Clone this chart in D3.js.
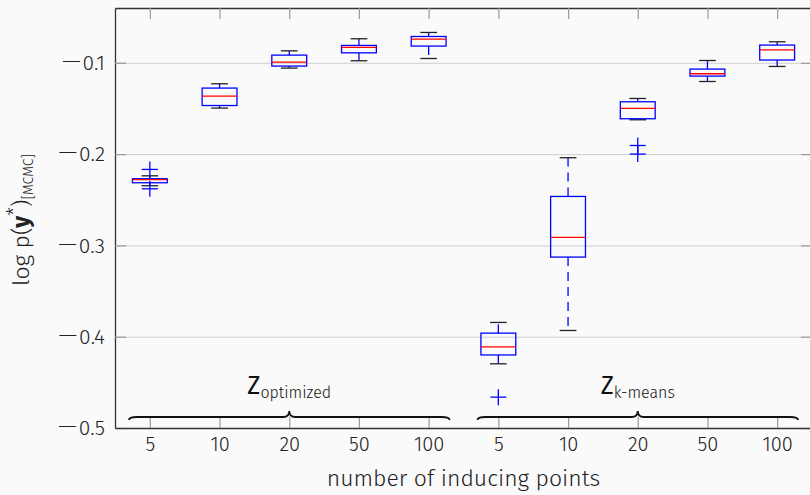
<!DOCTYPE html>
<html>
<head>
<meta charset="utf-8">
<script src="https://cdn.jsdelivr.net/npm/d3@7"></script>
<style>
  body { margin: 0; background: #fafafa; }
  svg { display: block; font-family: "Fira Sans", "Open Sans", sans-serif; font-weight: 300; }
</style>
</head>
<body>
<div id="chart"></div>
<script>
// number of inducing points, repeated for each group
const categories = ['5', '10', '20', '50', '100'];
const groups = ['optimized', 'k-means'];

// box stats per box: [low whisker, q1, median, q3, high whisker]
const statsOptimized = [
    [-0.2347, -0.2314, -0.2280, -0.2270, -0.2238],
    [-0.1496, -0.1468, -0.1365, -0.1277, -0.1230],
    [-0.1058, -0.1036, -0.0992, -0.0916, -0.0869],
    [-0.0978, -0.0891, -0.0832, -0.0810, -0.0737],
    [-0.0953, -0.0817, -0.0741, -0.0712, -0.0668]
];
const statsKmeans = [
    [-0.4297, -0.4200, -0.4111, -0.3961, -0.3844],
    [-0.3932, -0.3128, -0.2913, -0.2464, -0.2040],
    [-0.1624, -0.1613, -0.1500, -0.1427, -0.1391],
    [-0.1205, -0.1146, -0.1120, -0.1069, -0.0975],
    [-0.1040, -0.0970, -0.0858, -0.0806, -0.0770]
];
const outliersOptimized = [[-0.2168, -0.2380], [], [], [], []];
const outliersKmeans = [[-0.4662], [], [-0.1906, -0.2000], [], []];

const yTicks = [-0.5, -0.4, -0.3, -0.2, -0.1];

// flatten into one list of boxes, positions 1..10
const boxes = [];
[statsOptimized, statsKmeans].forEach((st, g) => {
    st.forEach((s, i) => {
        boxes.push({
            pos: g * categories.length + i + 1,
            lo: s[0], q1: s[1], med: s[2], q3: s[3], hi: s[4],
            out: (g === 0 ? outliersOptimized : outliersKmeans)[i]
        });
    });
});

const width = 810, height = 495;
const margin = { top: 8, right: -2, bottom: 67, left: 115 };
const innerWidth = width - margin.left - margin.right,
    innerHeight = height - margin.top - margin.bottom;

const svg = d3.select('#chart')
    .append('svg')
    .attr('width', width)
    .attr('height', height);

const g = svg.append('g')
    .attr('transform', 'translate(' + margin.left + ',' + margin.top + ')');

const x = d3.scaleLinear()
    .domain([0.5, boxes.length + 0.5])
    .range([0, innerWidth]);

const y = d3.scaleLinear()
    .domain([-0.5, -0.04])
    .range([innerHeight, 0]);

// grid lines
g.append('g')
    .call(d3.axisLeft(y).tickValues(yTicks).tickSize(-innerWidth).tickFormat(''))
    .call(a => a.select('.domain').remove())
    .selectAll('line').attr('stroke', '#cfcfcf');

// axes with inward ticks
const tickLen = 11;

const yAxisG = g.append('g')
    .call(d3.axisLeft(y).tickValues(yTicks).tickSize(-tickLen).tickSizeOuter(0)
        .tickPadding(10).tickFormat(d3.format('.1f')));
const yAxisR = g.append('g')
    .attr('transform', 'translate(' + innerWidth + ',0)')
    .call(d3.axisRight(y).tickValues(yTicks).tickSize(-tickLen).tickSizeOuter(0).tickFormat(''));

const posTicks = boxes.map(b => b.pos);
const xAxisG = g.append('g')
    .attr('transform', 'translate(0,' + innerHeight + ')')
    .call(d3.axisBottom(x).tickValues(posTicks).tickSize(-tickLen).tickSizeOuter(0)
        .tickPadding(9).tickFormat(d => categories[(d - 1) % categories.length]));
const xAxisT = g.append('g')
    .call(d3.axisTop(x).tickValues(posTicks).tickSize(-tickLen).tickSizeOuter(0).tickFormat(''));

[yAxisG, yAxisR, xAxisG, xAxisT].forEach(a => {
    a.attr('font-family', null).attr('font-size', null);
    a.select('.domain').attr('stroke', '#333').attr('stroke-width', 1.3);
    a.selectAll('.tick line').attr('stroke', '#999').attr('stroke-width', 1.2);
    a.selectAll('.tick text').attr('fill', '#222').style('font-size', '20px');
});

// long math-style minus on the y tick labels
yAxisG.selectAll('.tick text').style('font-size', '21px').each(function (d) {
    const t = d3.select(this);
    t.text('');
    t.append('tspan').style('font-family', 'DejaVu Sans').style('font-weight', 300)
        .style('font-size', '27px').text('\u2212');
    t.append('tspan').text(d3.format('.1f')(Math.abs(d)));
});

// boxes
const boxW = 0.5, capW = 0.24;
const bg = g.append('g');

bg.selectAll('.whisker')
    .data(boxes.flatMap(b => [[b.pos, b.q3, b.hi], [b.pos, b.q1, b.lo]]))
    .enter().append('line')
    .attr('x1', d => x(d[0])).attr('x2', d => x(d[0]))
    .attr('y1', d => y(d[1])).attr('y2', d => y(d[2]))
    .attr('stroke', '#0000ff').attr('stroke-width', 1.3)
    .attr('stroke-dasharray', '9,6');

bg.selectAll('.cap')
    .data(boxes.flatMap(b => [[b.pos, b.hi], [b.pos, b.lo]]))
    .enter().append('line')
    .attr('x1', d => x(d[0] - capW / 2)).attr('x2', d => x(d[0] + capW / 2))
    .attr('y1', d => y(d[1])).attr('y2', d => y(d[1]))
    .attr('stroke', '#222').attr('stroke-width', 1.3);

bg.selectAll('.box')
    .data(boxes)
    .enter().append('rect')
    .attr('x', d => x(d.pos - boxW / 2))
    .attr('width', d => x(d.pos + boxW / 2) - x(d.pos - boxW / 2))
    .attr('y', d => y(d.q3))
    .attr('height', d => y(d.q1) - y(d.q3))
    .attr('fill', 'none')
    .attr('stroke', '#0000ff').attr('stroke-width', 1.3);

bg.selectAll('.median')
    .data(boxes)
    .enter().append('line')
    .attr('x1', d => x(d.pos - boxW / 2)).attr('x2', d => x(d.pos + boxW / 2))
    .attr('y1', d => y(d.med)).attr('y2', d => y(d.med))
    .attr('stroke', '#ff0000').attr('stroke-width', 1.3);

const plus = 8;
const outs = boxes.flatMap(b => b.out.map(v => [b.pos, v]));
bg.selectAll('.outh')
    .data(outs).enter().append('line')
    .attr('x1', d => x(d[0]) - plus).attr('x2', d => x(d[0]) + plus)
    .attr('y1', d => y(d[1])).attr('y2', d => y(d[1]))
    .attr('stroke', '#0000ff').attr('stroke-width', 1.3);
bg.selectAll('.outv')
    .data(outs).enter().append('line')
    .attr('x1', d => x(d[0])).attr('x2', d => x(d[0]))
    .attr('y1', d => y(d[1]) - plus).attr('y2', d => y(d[1]) + plus)
    .attr('stroke', '#0000ff').attr('stroke-width', 1.3);

// curly braces under each group
const brace = (x1, x2, yy) => {
    const xm = (x1 + x2) / 2, e = 8, t = 6;
    return 'M' + x1 + ',' + (yy + 3) +
        'Q' + x1 + ',' + yy + ' ' + (x1 + e) + ',' + yy +
        'L' + (xm - t) + ',' + yy +
        'Q' + xm + ',' + yy + ' ' + xm + ',' + (yy - t) +
        'Q' + xm + ',' + yy + ' ' + (xm + t) + ',' + yy +
        'L' + (x2 - e) + ',' + yy +
        'Q' + x2 + ',' + yy + ' ' + x2 + ',' + (yy + 3);
};

groups.forEach((name, i) => {
    const first = i * categories.length + 1, last = first + categories.length - 1;
    g.append('path')
        .attr('d', brace(x(first - 0.3), x(last + 0.3), innerHeight - 11))
        .attr('fill', 'none').attr('stroke', '#111').attr('stroke-width', 1.8);
    const lbl = g.append('text')
        .attr('x', x((first + last) / 2))
        .attr('y', innerHeight - 34)
        .attr('text-anchor', 'middle')
        .attr('fill', '#111');
    lbl.append('tspan').style('font-size', '25px').style('font-weight', 400).text('Z');
    lbl.append('tspan').style('font-size', '16px').attr('dy', 4).text(name);
});

// axis labels
svg.append('text')
    .attr('x', margin.left + innerWidth / 2)
    .attr('y', 486)
    .attr('text-anchor', 'middle')
    .attr('fill', '#222')
    .style('font-size', '23px')
    .text('number of inducing points');

const yl = svg.append('text')
    .attr('transform', 'translate(29,220) rotate(-90)')
    .attr('text-anchor', 'middle')
    .attr('fill', '#222')
    .style('font-size', '23px');
yl.append('tspan').text('log p(');
yl.append('tspan').style('font-weight', 'bold').text('y');
yl.append('tspan').attr('dy', -8).style('font-size', '20px').text('*');
yl.append('tspan').attr('dy', 8).text(')');
yl.append('tspan').attr('dy', 4).style('font-size', '14px').text('[MCMC]');
</script>
</body>
</html>
